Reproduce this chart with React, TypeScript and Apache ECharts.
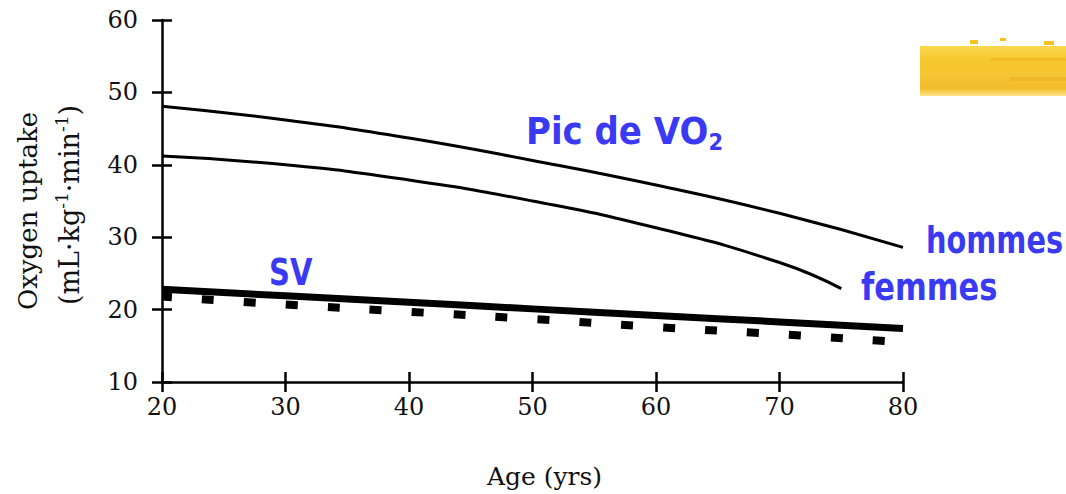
import React, { useEffect, useRef } from "react";
import * as echarts from "echarts";

const ages = [20, 30, 40, 50, 60, 70, 80];
const menPeak = [48.1, 46.2, 43.7, 40.6, 37.2, 33.3, 28.6];
const womenAges = [20, 30, 40, 50, 60, 70, 75];
const womenPeak = [41.2, 40.0, 37.9, 35.0, 31.3, 26.5, 22.9];
const svSolid = [22.8, 21.9, 21.0, 20.1, 19.2, 18.3, 17.4];
const svDotted = [21.8, 20.7, 19.7, 18.7, 17.6, 16.6, 15.5];
const xTicks = [20, 30, 40, 50, 60, 70, 80];
const yTicks = [10, 20, 30, 40, 50, 60];

const serif = "DejaVu Serif, Liberation Serif, serif";
const blue = "#3a3af2";
const comic = "Comic Sans MS, DejaVu Sans, sans-serif";

export default function App() {
  const ref = useRef<HTMLDivElement>(null);
  useEffect(() => {
    document.body.style.margin = "0";
    const chart = echarts.init(ref.current!, null, { renderer: "svg" });
    const pairs = (xs: number[], ys: number[]) => xs.map((x, i) => [x, ys[i]]);
    const axisCommon = {
      type: "value" as const,
      splitLine: { show: false },
    };
    const tickStyle = { color: "#000", width: 2.5 };
    const blueText = (text: string, x: number, y: number, size: number, sx: number, sy: number) => ({
      type: "text",
      x,
      y,
      scaleX: sx,
      scaleY: sy,
      style: { text, font: `bold ${size}px ${comic}`, fill: blue, verticalAlign: "top" },
    });
    chart.setOption({
      animation: false,
      backgroundColor: "#fff",
      grid: { left: 162, right: 163, top: 20, bottom: 110 },
      xAxis: [
        {
          ...axisCommon,
          min: xTicks[0],
          max: xTicks[xTicks.length - 1],
          interval: 10,
          axisLine: { lineStyle: { color: "#000", width: 2.5 } },
          axisTick: { length: 10, lineStyle: tickStyle },
          axisLabel: { color: "#111", fontFamily: serif, fontSize: 24, margin: 13 },
          name: "Age (yrs)",
          nameLocation: "middle",
          nameGap: 82,
          nameTextStyle: { color: "#111", fontFamily: serif, fontSize: 25, padding: [0, 0, 0, 24] },
        },
        {
          ...axisCommon,
          position: "bottom",
          min: xTicks[0],
          max: xTicks[xTicks.length - 1],
          interval: 10,
          axisLine: { show: false },
          axisTick: { inside: true, length: 10, lineStyle: tickStyle },
          axisLabel: { show: false },
        },
      ],
      yAxis: [
        {
          ...axisCommon,
          min: yTicks[0],
          max: yTicks[yTicks.length - 1],
          interval: 10,
          axisLine: { show: true, lineStyle: { color: "#000", width: 2.5 } },
          axisTick: { show: true, length: 10, lineStyle: tickStyle },
          axisLabel: { color: "#111", fontFamily: serif, fontSize: 24, margin: 24 },
        },
        {
          ...axisCommon,
          position: "left",
          min: yTicks[0],
          max: yTicks[yTicks.length - 1],
          interval: 10,
          axisLine: { show: false },
          axisTick: { show: true, inside: true, length: 10, lineStyle: tickStyle },
          axisLabel: { show: false },
        },
      ],
      series: [
        {
          type: "line",
          data: pairs(ages, menPeak),
          smooth: true,
          symbol: "none",
          lineStyle: { color: "#000", width: 3 },
        },
        {
          type: "line",
          data: pairs(womenAges, womenPeak),
          smooth: true,
          symbol: "none",
          lineStyle: { color: "#000", width: 3 },
        },
        {
          type: "line",
          data: pairs(ages, svSolid),
          smooth: true,
          symbol: "none",
          lineStyle: { color: "#000", width: 7 },
        },
        {
          type: "line",
          data: pairs(ages, svDotted),
          smooth: true,
          symbol: "none",
          lineStyle: { color: "#000", width: 8, type: [12, 30], dashOffset: 2 },
        },
      ],
      graphic: [
        {
          type: "text",
          x: 28,
          y: 211,
          rotation: Math.PI / 2,
          style: {
            text: "Oxygen uptake",
            font: `26px ${serif}`,
            fill: "#111",
            align: "center",
            verticalAlign: "middle",
          },
        },
        {
          type: "text",
          x: 69,
          y: 205,
          rotation: Math.PI / 2,
          style: {
            text: "{a|(mL·kg}{s|-1}{a|·min}{s|-1}{a|)}",
            align: "center",
            verticalAlign: "middle",
            rich: {
              a: { fontFamily: serif, fontSize: 27, fill: "#111" },
              s: { fontFamily: serif, fontSize: 17, fill: "#111", padding: [0, 0, 15, 0] },
            },
          },
        },
        {
          type: "text",
          x: 526,
          y: 110,
          scaleY: 1.12,
          style: {
            text: "{a|Pic de VO}{s|2}",
            verticalAlign: "top",
            rich: {
              a: { fontFamily: comic, fontSize: 34, fontWeight: "bold", fill: blue },
              s: { fontFamily: comic, fontSize: 21, fontWeight: "bold", fill: blue, padding: [18, 0, 0, 0] },
            },
          },
        },
        blueText("SV", 269, 253, 29, 1, 1.3),
        blueText("hommes", 926, 223, 28, 1.03, 1.3),
        blueText("femmes", 861, 269, 28, 1.09, 1.3),
        {
          type: "rect",
          shape: { x: 920, y: 46, width: 146, height: 50 },
          style: {
            fill: new echarts.graphic.LinearGradient(0, 0, 0, 1, [
              { offset: 0, color: "#fad84e" },
              { offset: 0.3, color: "#f6c72c" },
              { offset: 0.6, color: "#f5c535" },
              { offset: 0.85, color: "#f2bd2a" },
              { offset: 1, color: "#fde48a" },
            ]),
          },
        },
        { type: "rect", shape: { x: 990, y: 58, width: 76, height: 3 }, style: { fill: "#eeb520", opacity: 0.6 } },
        { type: "rect", shape: { x: 1010, y: 77, width: 56, height: 4 }, style: { fill: "#eab021", opacity: 0.6 } },
        { type: "rect", shape: { x: 970, y: 40, width: 8, height: 4 }, style: { fill: "#f6c21c" } },
        { type: "rect", shape: { x: 1000, y: 38, width: 6, height: 3 }, style: { fill: "#f6c21c" } },
        { type: "rect", shape: { x: 1044, y: 41, width: 10, height: 4 }, style: { fill: "#f6c21c" } },
      ],
    });
    return () => chart.dispose();
  }, []);
  return <div ref={ref} style={{ width: 1066, height: 494 }} />;
}
